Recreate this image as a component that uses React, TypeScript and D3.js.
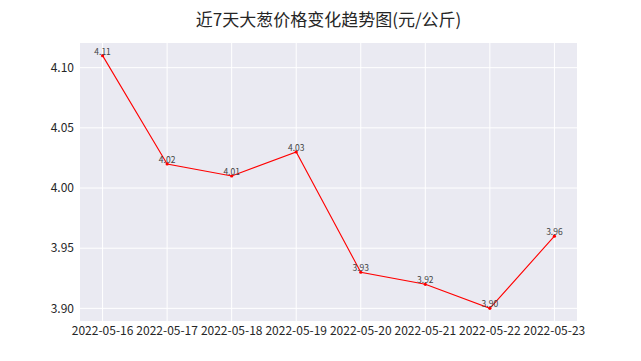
import { scaleLinear, line as d3Line } from "d3";

const dates = [
  "2022-05-16",
  "2022-05-17",
  "2022-05-18",
  "2022-05-19",
  "2022-05-20",
  "2022-05-21",
  "2022-05-22",
  "2022-05-23",
];
const prices = [4.11, 4.02, 4.01, 4.03, 3.93, 3.92, 3.9, 3.96];
const yTicks = [3.9, 3.95, 4.0, 4.05, 4.1];
const title = "近7天大葱价格变化趋势图(元/公斤)";

const W = 641;
const H = 361;
const plot = { left: 80, right: 577, top: 43, bottom: 321 };
const font = "'Noto Sans CJK SC', 'DejaVu Sans', sans-serif";

export default function App() {
  const n = dates.length - 1;
  const xPad = n * 0.05;
  const x = scaleLinear()
    .domain([-xPad, n + xPad])
    .range([plot.left, plot.right]);

  const lo = Math.min(...prices);
  const hi = Math.max(...prices);
  const yPad = (hi - lo) * 0.05;
  const y = scaleLinear()
    .domain([lo - yPad, hi + yPad])
    .range([plot.bottom, plot.top]);

  const data = prices.map((v, i) => ({ i, v }));
  const path = d3Line<(typeof data)[number]>()
    .x((d) => x(d.i))
    .y((d) => y(d.v))(data);

  return (
    <svg
      width={W}
      height={H}
      viewBox={`0 0 ${W} ${H}`}
      style={{ position: "absolute", left: 0, top: 0, background: "#fff" }}
      fontFamily={font}
    >
      {/* Title */}
      <text
        x={(plot.left + plot.right) / 2}
        y={26}
        textAnchor="middle"
        fontSize={17}
        fill="#262626"
      >
        {title}
      </text>

      {/* Plot background */}
      <rect
        x={plot.left}
        y={plot.top}
        width={plot.right - plot.left}
        height={plot.bottom - plot.top}
        fill="#EAEAF2"
      />

      {/* Grid */}
      {dates.map((d, i) => (
        <line
          key={d}
          x1={x(i)}
          x2={x(i)}
          y1={plot.top}
          y2={plot.bottom}
          stroke="#fff"
          strokeWidth={1}
        />
      ))}
      {yTicks.map((t) => (
        <line
          key={t}
          x1={plot.left}
          x2={plot.right}
          y1={y(t)}
          y2={y(t)}
          stroke="#fff"
          strokeWidth={1}
        />
      ))}

      {/* Y tick labels */}
      {yTicks.map((t) => (
        <text
          key={t}
          x={plot.left - 6}
          y={y(t)}
          dy="0.35em"
          textAnchor="end"
          fontSize={12}
          fill="#262626"
        >
          {t.toFixed(2)}
        </text>
      ))}

      {/* X tick labels */}
      {dates.map((d, i) => (
        <text
          key={d}
          x={x(i)}
          y={plot.bottom + 14}
          textAnchor="middle"
          fontSize={12}
          fill="#262626"
        >
          {d}
        </text>
      ))}

      {/* Line */}
      <path d={path ?? ""} fill="none" stroke="#ff0000" strokeWidth={1.1} />
      {data.map((d) => (
        <circle key={d.i} cx={x(d.i)} cy={y(d.v)} r={1.6} fill="#ff0000" />
      ))}

      {/* Value labels */}
      {data.map((d) => (
        <text
          key={d.i}
          x={x(d.i)}
          y={y(d.v) - 1}
          textAnchor="middle"
          fontSize={8.5}
          fill="#444"
        >
          {d.v.toFixed(2)}
        </text>
      ))}
    </svg>
  );
}
